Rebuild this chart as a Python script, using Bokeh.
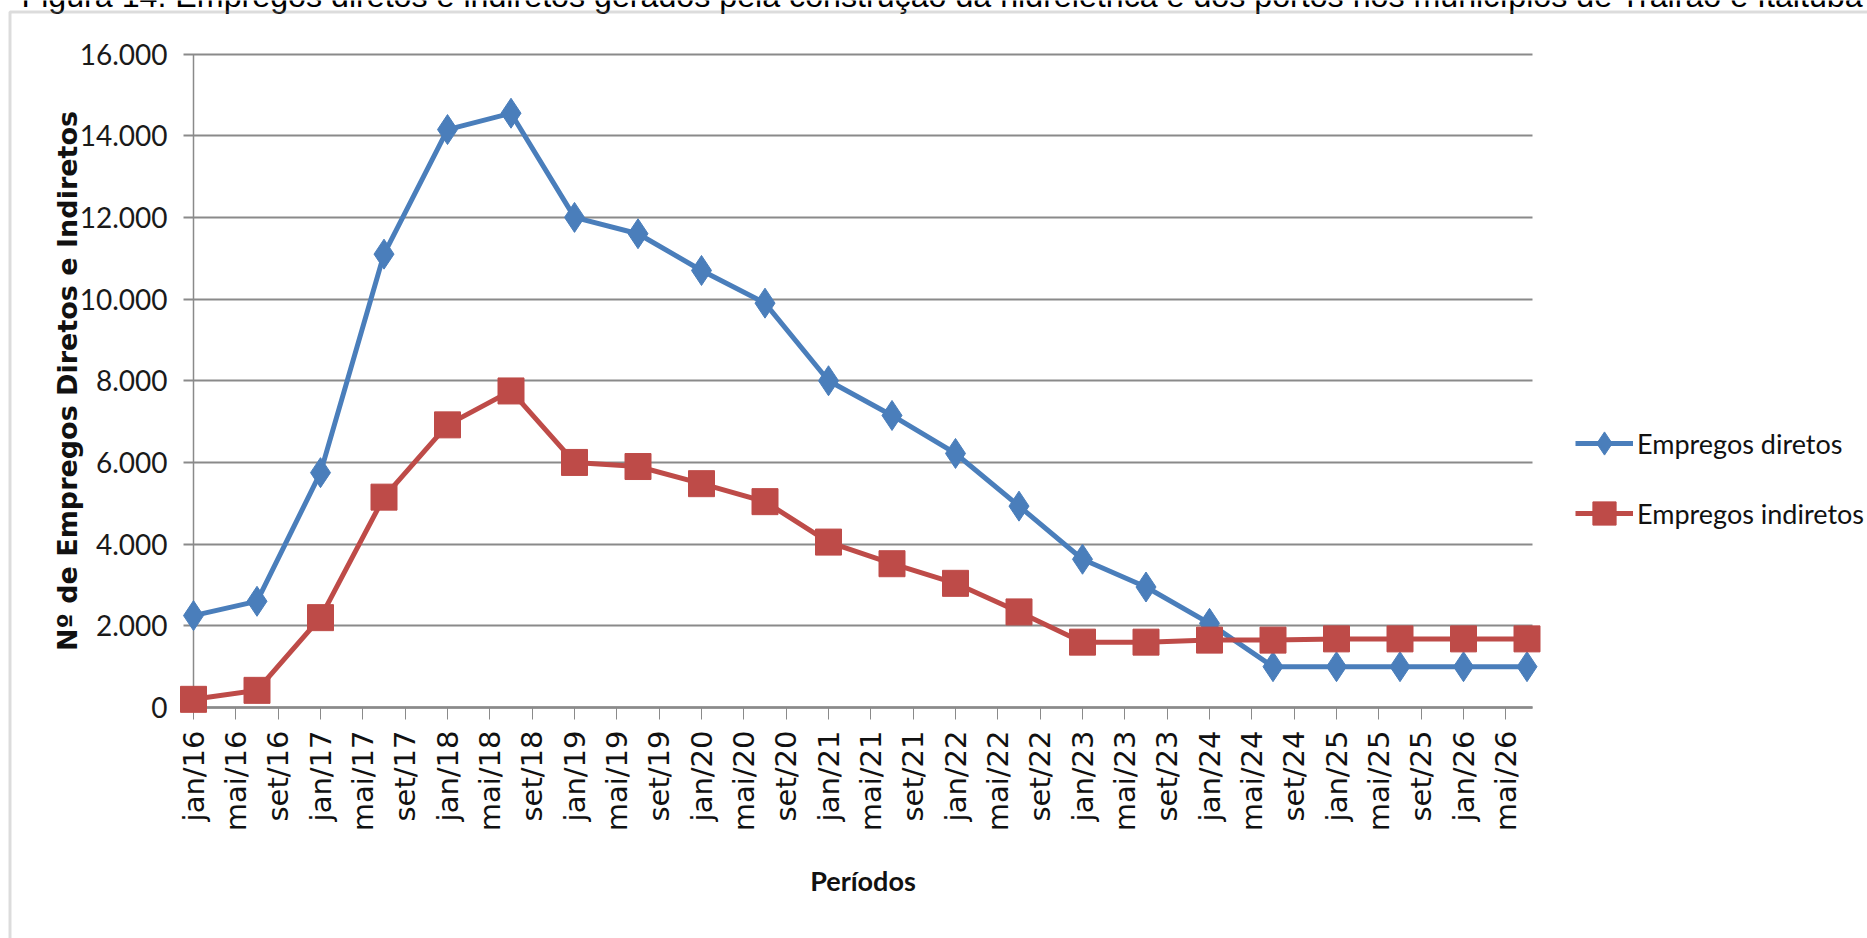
import math

from bokeh.plotting import figure
from bokeh.models import (Range1d, FixedTicker, Legend, LegendItem, Label,
                          BoxAnnotation, ColumnDataSource)
from bokeh.embed import file_html
from bokeh.resources import INLINE

# Semiannual observations (Jan / Jul) from 2016 to 2026
periods = ["jan/16", "jul/16", "jan/17", "jul/17", "jan/18", "jul/18",
           "jan/19", "jul/19", "jan/20", "jul/20", "jan/21", "jul/21",
           "jan/22", "jul/22", "jan/23", "jul/23", "jan/24", "jul/24",
           "jan/25", "jul/25", "jan/26", "jul/26"]

empregos_diretos = [2250, 2600, 5750, 11100, 14150, 14550,
                    12000, 11600, 10700, 9900, 8000, 7150,
                    6220, 4930, 3630, 2950, 2060, 1000,
                    1000, 1000, 1000, 1000]

empregos_indiretos = [200, 420, 2200, 5150, 6920, 7750,
                      6000, 5900, 5480, 5040, 4050, 3520,
                      3040, 2340, 1600, 1600, 1650, 1650,
                      1680, 1680, 1680, 1680]

# Date-axis labels every four months
tick_labels = ["jan/16", "mai/16", "set/16", "jan/17", "mai/17", "set/17",
               "jan/18", "mai/18", "set/18", "jan/19", "mai/19", "set/19",
               "jan/20", "mai/20", "set/20", "jan/21", "mai/21", "set/21",
               "jan/22", "mai/22", "set/22", "jan/23", "mai/23", "set/23",
               "jan/24", "mai/24", "set/24", "jan/25", "mai/25", "set/25",
               "jan/26", "mai/26"]

y_ticks = [0, 2000, 4000, 6000, 8000, 10000, 12000, 14000, 16000]

caption = ("Figura 14. Empregos diretos e indiretos gerados pela construção "
           "da hidrelétrica e dos portos nos municípios de Trairão e Itaituba")

MONTH_INDEX = {"jan": 0, "mai": 4, "jul": 6, "set": 8}


def months_since_start(label):
    mon, yy = label.split("/")
    return 12 * (int(yy) - 16) + MONTH_INDEX[mon]


x_months = [months_since_start(s) for s in periods]
tick_months = [months_since_start(s) for s in tick_labels]

src = ColumnDataSource(dict(x=x_months, periodo=periods,
                            diretos=empregos_diretos,
                            indiretos=empregos_indiretos))

BLUE = "#4a7ebb"
RED = "#be4b48"
GRID = "#8a8a8a"
SANS = "Lato"

W, H = 1867, 938
# plot area in page pixels
AREA_L, AREA_R, AREA_T, AREA_B = 193.0, 1532.0, 53.5, 707.0
X_LAST = 126.0            # jul/26, drawn at x = 1526.5
X_END = 126.5             # right end of the axis
Y_TOP = 16000.0

px_per_month = (1526.5 - AREA_L) / X_LAST
px_per_job = (AREA_B - AREA_T) / Y_TOP

# The frame spans the whole page so the caption, border and legend are not
# clipped; the axes are pinned to the plot origin with fixed_location.
x_range = Range1d(-AREA_L / px_per_month, (W - AREA_L) / px_per_month)
y_range = Range1d(-(H - AREA_B) / px_per_job, AREA_B / px_per_job)

p = figure(width=W, height=H, output_backend="svg", toolbar_location=None,
           x_range=x_range, y_range=y_range,
           min_border=0, min_border_left=0, min_border_right=0,
           min_border_top=0, min_border_bottom=0)
p.background_fill_color = "white"
p.border_fill_color = "white"
p.outline_line_color = None
p.grid.visible = False

# x axis: months, labelled every four months
xa = p.xaxis[0]
xa.fixed_location = 0
xa.bounds = (0, X_END)
xa.level = "underlay"
xa.ticker = FixedTicker(ticks=tick_months, minor_ticks=[])
xa.major_label_overrides = {m: lab for m, lab in zip(tick_months, tick_labels)}
xa.major_label_orientation = math.pi / 2
xa.major_label_text_font = "DejaVu Sans"
xa.major_label_text_font_size = "29px"
xa.major_label_text_color = "#111111"
xa.major_label_standoff = 11
xa.major_tick_out = 12
xa.major_tick_in = 0
xa.major_tick_line_color = GRID
xa.major_tick_line_width = 1
xa.minor_tick_line_color = None
xa.axis_line_color = GRID
xa.axis_line_width = 2.5
xa.axis_label = "Períodos"
xa.axis_label_text_font = SANS
xa.axis_label_text_font_style = "bold"
xa.axis_label_text_font_size = "27px"
xa.axis_label_text_color = "#111111"
xa.axis_label_standoff = 30

# y axis: thousands with a dot separator; its ticks run across the plot
# area as the horizontal gridlines
ya = p.yaxis[0]
ya.fixed_location = 0
ya.bounds = (0, Y_TOP)
ya.level = "underlay"
ya.ticker = FixedTicker(ticks=y_ticks, minor_ticks=[])
ya.major_label_overrides = {v: f"{v:,}".replace(",", ".") for v in y_ticks}
ya.major_label_text_font = SANS
ya.major_label_text_font_size = "28px"
ya.major_label_text_color = "#1a1a1a"
ya.major_label_standoff = 16
ya.major_tick_out = 10
ya.major_tick_in = int(AREA_R - AREA_L)
ya.major_tick_line_color = GRID
ya.major_tick_line_width = 2
ya.minor_tick_line_color = None
ya.axis_line_color = GRID
ya.axis_line_width = 1.5
ya.axis_label = "Nº de Empregos Diretos e Indiretos"
ya.axis_label_text_font = "DejaVu Sans"
ya.axis_label_text_font_style = "bold"
ya.axis_label_text_font_size = "27px"
ya.axis_label_text_color = "#111111"
ya.axis_label_standoff = -6

# series: direct jobs first, indirect jobs drawn on top
l1 = p.line("x", "diretos", source=src, line_color=BLUE, line_width=5)
m1 = p.scatter("x", "diretos", source=src, marker="diamond", size=30,
               fill_color=BLUE, line_color=BLUE)
l2 = p.line("x", "indiretos", source=src, line_color=RED, line_width=5)
m2 = p.scatter("x", "indiretos", source=src, marker="square", size=26,
               fill_color=RED, line_color=RED)

legend = Legend(items=[LegendItem(label="Empregos diretos", renderers=[l1, m1]),
                       LegendItem(label="Empregos indiretos", renderers=[l2, m2])],
                location=(1575, H - 547),
                glyph_width=58, glyph_height=68, label_height=30,
                label_standoff=4, spacing=2, padding=0, margin=0,
                border_line_color=None, background_fill_alpha=0,
                label_text_font=SANS, label_text_font_size="27px",
                label_text_color="#111111")
p.add_layout(legend, "center")

# page caption running along the top edge and the surrounding frame
p.add_layout(Label(x=21, y=-5, x_units="canvas", y_units="canvas",
                   text=caption, text_font="Liberation Sans",
                   text_font_size="32.2px", text_baseline="alphabetic",
                   text_color="black"))
p.add_layout(BoxAnnotation(left=9.5, right=1950, top=11.5, bottom=1000,
                           left_units="canvas", right_units="canvas",
                           top_units="canvas", bottom_units="canvas",
                           fill_alpha=0, line_color="#8a8a8a", line_width=3))

open("out.html", "w").write(file_html(p, INLINE))
